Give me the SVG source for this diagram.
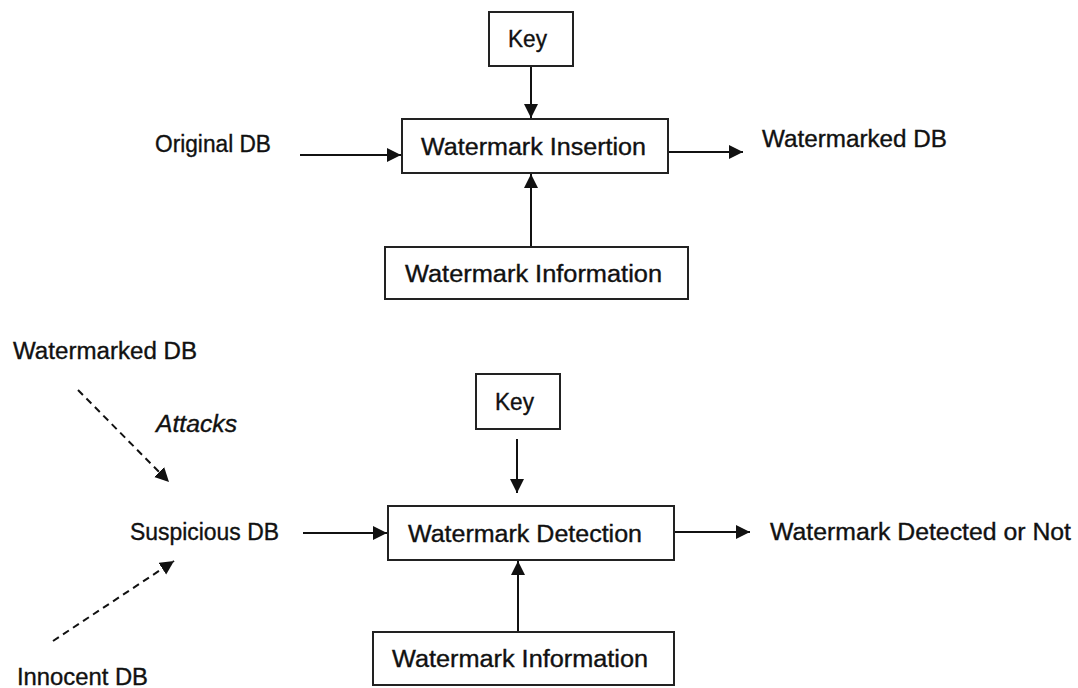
<svg xmlns="http://www.w3.org/2000/svg" width="1078" height="688" viewBox="0 0 1078 688">
  <style>
    .box { fill: #ffffff; stroke: #222222; stroke-width: 2; }
    .lbl { font-family: "Liberation Sans", "Open Sans", Arial, sans-serif; font-size: 23px; fill: #111111; stroke: #111111; stroke-width: 0.35; }
    .it { font-style: italic; }
    .line { stroke: #111111; stroke-width: 2; fill: none; }
    .dash { stroke: #111111; stroke-width: 2; fill: none; stroke-dasharray: 7 5; }
  </style>
  <defs>
    <marker id="arrow" markerUnits="userSpaceOnUse" markerWidth="15" markerHeight="15" refX="14" refY="7" orient="auto">
      <path d="M0,0 L14,7 L0,14 z" fill="#111111"/>
    </marker>
  </defs>
  <rect width="1078" height="688" fill="#ffffff"/>

  <!-- Connectors -->
  <g id="connectors">
    <line class="line" x1="300" y1="155" x2="401" y2="155" marker-end="url(#arrow)"/>
    <line class="line" x1="531" y1="66" x2="531" y2="118" marker-end="url(#arrow)"/>
    <line class="line" x1="531" y1="247" x2="531" y2="174" marker-end="url(#arrow)"/>
    <line class="line" x1="668" y1="152" x2="743" y2="152" marker-end="url(#arrow)"/>
    <line class="dash" x1="78" y1="390" x2="169" y2="482" marker-end="url(#arrow)"/>
    <line class="dash" x1="53" y1="641" x2="174" y2="561" marker-end="url(#arrow)"/>
    <line class="line" x1="303" y1="533" x2="387" y2="533" marker-end="url(#arrow)"/>
    <line class="line" x1="517" y1="439" x2="517" y2="493" marker-end="url(#arrow)"/>
    <line class="line" x1="518" y1="632" x2="518" y2="561" marker-end="url(#arrow)"/>
    <line class="line" x1="675" y1="532" x2="750" y2="532" marker-end="url(#arrow)"/>
  </g>

  <!-- Top diagram -->
  <g id="original-db">
    <text class="lbl" x="155" y="152" textLength="116" lengthAdjust="spacingAndGlyphs">Original DB</text>
  </g>
  <g id="key-top">
    <rect class="box" x="489" y="12" width="84" height="54"/>
    <text class="lbl" x="508" y="47" textLength="39" lengthAdjust="spacingAndGlyphs">Key</text>
  </g>
  <g id="watermark-insertion">
    <rect class="box" x="402" y="119" width="266" height="54"/>
    <text class="lbl" x="421" y="155" textLength="225" lengthAdjust="spacingAndGlyphs">Watermark Insertion</text>
  </g>
  <g id="watermark-info-top">
    <rect class="box" x="385" y="247" width="303" height="52"/>
    <text class="lbl" x="405" y="282" textLength="257" lengthAdjust="spacingAndGlyphs">Watermark Information</text>
  </g>
  <g id="watermarked-db-out">
    <text class="lbl" x="762" y="147" textLength="185" lengthAdjust="spacingAndGlyphs">Watermarked DB</text>
  </g>

  <!-- Bottom diagram -->
  <g id="watermarked-db-in">
    <text class="lbl" x="13" y="359" textLength="184" lengthAdjust="spacingAndGlyphs">Watermarked DB</text>
  </g>
  <g id="attacks-label">
    <text class="lbl it" x="156" y="432" textLength="81" lengthAdjust="spacingAndGlyphs">Attacks</text>
  </g>
  <g id="suspicious-db">
    <text class="lbl" x="130" y="540" textLength="149" lengthAdjust="spacingAndGlyphs">Suspicious DB</text>
  </g>
  <g id="innocent-db">
    <text class="lbl" x="17" y="685" textLength="131" lengthAdjust="spacingAndGlyphs">Innocent DB</text>
  </g>
  <g id="key-bottom">
    <rect class="box" x="476" y="374" width="84" height="55"/>
    <text class="lbl" x="495" y="410" textLength="39" lengthAdjust="spacingAndGlyphs">Key</text>
  </g>
  <g id="watermark-detection">
    <rect class="box" x="388" y="506" width="286" height="54"/>
    <text class="lbl" x="408" y="542" textLength="234" lengthAdjust="spacingAndGlyphs">Watermark Detection</text>
  </g>
  <g id="watermark-info-bottom">
    <rect class="box" x="373" y="632" width="301" height="53"/>
    <text class="lbl" x="392" y="667" textLength="256" lengthAdjust="spacingAndGlyphs">Watermark Information</text>
  </g>
  <g id="detected-or-not">
    <text class="lbl" x="770" y="540" textLength="301" lengthAdjust="spacingAndGlyphs">Watermark Detected or Not</text>
  </g>
</svg>
